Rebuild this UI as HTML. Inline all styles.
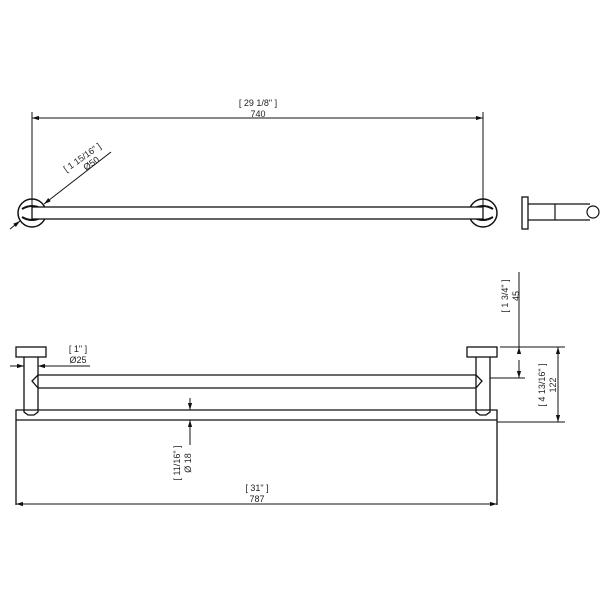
<!DOCTYPE html>
<html><head><style>body{margin:0;background:#fff}svg{display:block}text{font-family:"Liberation Sans",sans-serif;font-size:9px;fill:#222;stroke:none}</style></head><body>
<svg width="600" height="600" viewBox="0 0 600 600" stroke="#111" fill="none" stroke-width="1">
<defs><marker id="a" viewBox="0 0 10 10" refX="10" refY="5" markerWidth="7" markerHeight="7" orient="auto-start-reverse"><path d="M0,2 L10,5 L0,8 z" fill="#111" stroke="none"/></marker></defs>
<line x1="32" y1="118" x2="483" y2="118" marker-start="url(#a)" marker-end="url(#a)"/>
<line x1="32" y1="112" x2="32" y2="215"/><line x1="483" y1="112" x2="483" y2="215"/>
<text x="258" y="106" text-anchor="middle">[ 29 1/8" ]</text><text x="258" y="117" text-anchor="middle">740</text>
<circle cx="32" cy="213" r="14" stroke-width="1.5"/><circle cx="483" cy="213" r="14" stroke-width="1.5"/>
<path d="M22,209 Q32,203 42,209 M22,217 Q32,223 42,217 M473,209 Q483,203 493,209 M473,217 Q483,223 493,217" stroke-width="2"/>
<rect x="32" y="207" width="451" height="12" fill="#fff" stroke-width="1.3"/>
<line x1="10" y1="229" x2="20" y2="221" marker-end="url(#a)"/>
<line x1="111" y1="152" x2="44" y2="204" marker-end="url(#a)"/>
<g transform="translate(84,160) rotate(-35)"><text x="0" y="0" text-anchor="middle">[ 1 15/16" ]</text><text x="4" y="10" text-anchor="middle">Ø50</text></g>
<rect x="522" y="197" width="6" height="32" stroke-width="1.3"/>
<path d="M528,204 H590 M528,220 H590 M555,204 V220" stroke-width="1.2"/>
<circle cx="593" cy="212" r="6" fill="#fff" stroke-width="1.2"/>
<rect x="16" y="347" width="30" height="10" stroke-width="1.3"/>
<rect x="467" y="347" width="30" height="10" stroke-width="1.3"/>
<path d="M24,357 V412 L28,415 H34 L38,412 V357" stroke-width="1.3"/>
<path d="M476,357 V412 L480,415 H486 L490,412 V357" stroke-width="1.3"/>
<path d="M38,375 H476 M38,388 H476" stroke-width="1.3"/>
<path d="M38,375 L32,381 L38,388 M476,375 L482,381 L476,388" stroke-width="1.3"/>
<path d="M16,505 V410 H24 M16,420 H497 M490,410 H497 V505 M24,410 H490" stroke-width="1.3"/>
<line x1="16" y1="504" x2="497" y2="504" marker-start="url(#a)" marker-end="url(#a)"/>
<text x="257" y="491" text-anchor="middle">[ 31" ]</text><text x="257" y="502" text-anchor="middle">787</text>
<line x1="10" y1="366" x2="24" y2="366" marker-end="url(#a)"/><line x1="90" y1="366" x2="38" y2="366" marker-end="url(#a)"/>
<text x="78" y="352" text-anchor="middle">[ 1" ]</text><text x="78" y="363" text-anchor="middle">Ø25</text>
<line x1="190" y1="398" x2="190" y2="410" marker-end="url(#a)"/><line x1="190" y1="445" x2="190" y2="420" marker-end="url(#a)"/>
<g transform="translate(180,463) rotate(-90)"><text x="0" y="0" text-anchor="middle">[ 11/16" ]</text><text x="0" y="11" text-anchor="middle">Ø 18</text></g>
<line x1="519" y1="272" x2="519" y2="347"/><line x1="519" y1="352" x2="519" y2="347" marker-end="url(#a)"/>
<line x1="519" y1="360" x2="519" y2="378" marker-end="url(#a)"/>
<path d="M500,347 H565 M490,378 H525 M497,422 H565"/>
<g transform="translate(508,296) rotate(-90)"><text x="0" y="0" text-anchor="middle">[ 1 3/4" ]</text><text x="0" y="11" text-anchor="middle">45</text></g>
<line x1="558" y1="347" x2="558" y2="422" marker-start="url(#a)" marker-end="url(#a)"/>
<g transform="translate(545,385) rotate(-90)"><text x="0" y="0" text-anchor="middle">[ 4 13/16" ]</text><text x="0" y="11" text-anchor="middle">122</text></g>
</svg>
</body></html>
